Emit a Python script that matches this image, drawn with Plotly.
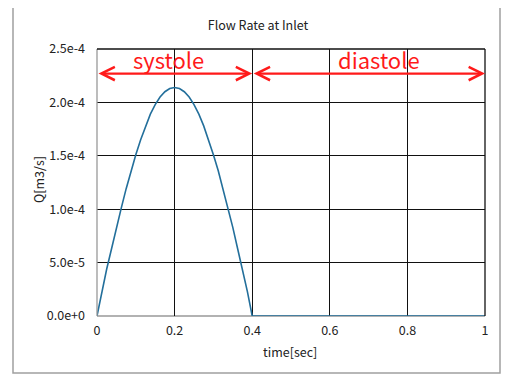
import plotly.graph_objects as go

# Data
time_sec = [0.0, 0.0125, 0.025, 0.0375, 0.05, 0.0625, 0.075, 0.0875, 0.1,
            0.1125, 0.125, 0.1375, 0.15, 0.1625, 0.175, 0.1875, 0.2,
            0.2125, 0.225, 0.2375, 0.25, 0.2625, 0.275, 0.2875, 0.3,
            0.3125, 0.325, 0.3375, 0.35, 0.3625, 0.375, 0.3875, 0.4, 1.0]
flow_q = [0.0, 0.23e-4, 0.44e-4, 0.63e-4, 0.83e-4, 1.01e-4, 1.19e-4, 1.36e-4, 1.51e-4,
          1.65e-4, 1.78e-4, 1.89e-4, 1.98e-4, 2.05e-4, 2.10e-4, 2.13e-4, 2.14e-4,
          2.13e-4, 2.10e-4, 2.05e-4, 1.98e-4, 1.89e-4, 1.78e-4, 1.65e-4, 1.51e-4,
          1.36e-4, 1.19e-4, 1.01e-4, 0.83e-4, 0.63e-4, 0.44e-4, 0.23e-4, 0.0, 0.0]

x_ticks = [0, 0.2, 0.4, 0.6, 0.8, 1.0]
x_tick_labels = ["0", "0.2", "0.4", "0.6", "0.8", "1"]
y_ticks = [0, 0.5e-4, 1.0e-4, 1.5e-4, 2.0e-4, 2.5e-4]
y_tick_labels = ["0.0e+0", "5.0e-5", "1.0e-4", "1.5e-4", "2.0e-4", "2.5e-4"]

phase_names = ["systole", "diastole"]
phase_start = [0.0, 0.4]
phase_end = [0.4, 1.0]
phase_label_x = [0.183, 0.727]
arrow_level = 2.27e-4

FONT = "Noto Sans CJK JP, DejaVu Sans, sans-serif"

fig = go.Figure()
fig.add_trace(go.Scatter(x=time_sec, y=flow_q, mode="lines",
                         line=dict(color="#236f9b", width=1.6),
                         showlegend=False, hoverinfo="skip"))

OFF = 8  # page body margin
W, H = 510 - OFF, 388 - OFF
L, R, T, B = 97 - OFF, 25, 49 - OFF, 72
pw, ph = W - L - R, H - T - B

def px(x):  # screen pixel -> paper
    return (x - OFF - L) / pw

def py(y):
    return (H - B - (y - OFF)) / ph

fig.update_layout(
    width=W, height=H,
    margin=dict(l=L, r=R, t=T, b=B),
    paper_bgcolor="white", plot_bgcolor="white",
    font=dict(family=FONT, size=12, color="#222"),
    title=dict(text="Flow Rate at Inlet", x=px(258), xref="paper", xanchor="center",
               y=1 - (26 - OFF) / H, yanchor="middle",
               font=dict(family=FONT, size=12.5, color="#222")),
    xaxis=dict(range=[0, 1], tickvals=x_ticks, ticktext=x_tick_labels,
               showgrid=True, gridcolor="#111", gridwidth=1.3,
               zeroline=False, showline=False, ticks="",
               ticklabelstandoff=5, fixedrange=True,
               tickfont=dict(size=12.5)),
    yaxis=dict(range=[0, 2.5e-4], tickvals=y_ticks, ticktext=y_tick_labels,
               showgrid=True, gridcolor="#111", gridwidth=1.3,
               zeroline=False, showline=False, ticks="",
               ticklabelstandoff=11, fixedrange=True,
               tickfont=dict(size=12.5)),
)

shapes = [
    dict(type="rect", xref="paper", yref="paper",
         x0=px(13), x1=px(500), y0=py(373), y1=py(7),
         line=dict(color="#a0a0a0", width=1.5), layer="below"),
    dict(type="line", xref="paper", yref="paper", x0=0, x1=0, y0=0, y1=1,
         line=dict(color="#999", width=1.3)),
    dict(type="line", xref="paper", yref="paper", x0=0, x1=1, y0=1, y1=1,
         line=dict(color="#111", width=1.3)),
    dict(type="line", xref="paper", yref="paper", x0=1, x1=1, y0=0, y1=1,
         line=dict(color="#111", width=1.3)),
    dict(type="line", xref="paper", yref="paper", x0=0, x1=1, y0=0, y1=0,
         line=dict(color="#999", width=1.3), layer="below"),
]
fig.update_layout(shapes=shapes)

annotations = []
for name, s, e, lx in zip(phase_names, phase_start, phase_end, phase_label_x):
    annotations.append(dict(x=e, y=arrow_level, ax=s, ay=arrow_level,
                            xref="x", yref="y", axref="x", ayref="y",
                            text="", showarrow=True, arrowhead=5,
                            startarrowhead=5, arrowside="end+start",
                            arrowsize=1.2, startarrowsize=1.2,
                            arrowwidth=2.2, arrowcolor="#ff1a1a",
                            standoff=0, startstandoff=0))
    annotations.append(dict(x=lx, y=arrow_level,
                            xref="x", yref="y", text=name, showarrow=False,
                            yanchor="bottom", yshift=-3,
                            font=dict(family=FONT, size=22, color="#ff1a1a")))

annotations.append(dict(x=px(290), y=py(351), xref="paper", yref="paper",
                        text="time[sec]", showarrow=False,
                        xanchor="center", yanchor="middle",
                        font=dict(family=FONT, size=12.5, color="#222")))
annotations.append(dict(x=px(38), y=py(180), xref="paper", yref="paper",
                        text="Q[m3/s]", showarrow=False, textangle=-90,
                        xanchor="center", yanchor="middle",
                        font=dict(family=FONT, size=12.5, color="#222")))
fig.update_layout(annotations=annotations)

fig.write_html("out.html")
